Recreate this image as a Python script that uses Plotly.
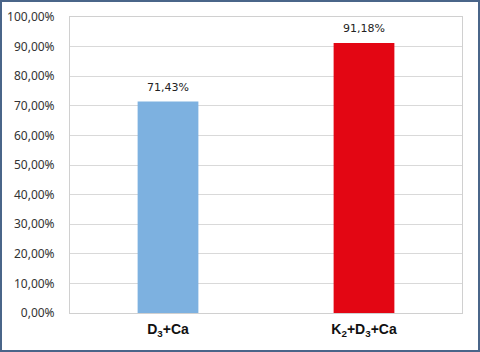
import plotly.graph_objects as go

categories = ["D<sub>3</sub>+Ca", "K<sub>2</sub>+D<sub>3</sub>+Ca"]
values = [0.7143, 0.9118]
labels = ["71,43%", "91,18%"]
colors = ["#7db1e0", "#e30613"]
tick_vals = [i / 10 for i in range(11)]

L, R, T, B = 70, 18, 17, 39
W, H = 480, 352
pw, ph = W - L - R, H - T - B

fig = go.Figure()
fig.add_trace(go.Bar(
    x=categories, y=values,
    marker=dict(color=colors, line=dict(width=0)),
    width=0.31,
))

for c, v, t in zip(categories, values, labels):
    fig.add_annotation(
        x=c, y=v, text=t, showarrow=False, yanchor="bottom", yshift=6,
        font=dict(family="DejaVu Sans", size=11, color="#222222"),
    )

fig.update_layout(
    width=W, height=H,
    margin=dict(l=L, r=R, t=T, b=B, autoexpand=False),
    paper_bgcolor="white", plot_bgcolor="white",
    separators=",.",
    showlegend=False,
    xaxis=dict(
        showline=True, linecolor="#d0d0d0", linewidth=1, mirror=True,
        tickfont=dict(family="Liberation Sans Narrow, Arial Narrow, Liberation Sans", size=14, color="#111111", weight="bold"),
        ticks="", showgrid=False, ticklabelstandoff=3, automargin=False,
    ),
    yaxis=dict(
        range=[0, 1.0], tickvals=tick_vals, tickformat=".2%",
        showgrid=True, gridcolor="#d9d9d9", gridwidth=1,
        showline=True, linecolor="#d0d0d0", linewidth=1, mirror=True,
        tickfont=dict(family="Noto Sans", size=12, color="#333333"),
        ticks="", ticklabelstandoff=12, zeroline=False, automargin=False,
    ),
)

fig.add_shape(
    type="rect", xref="paper", yref="paper",
    x0=(1 - L) / pw, x1=(W - 1 - L) / pw,
    y0=(H - B - (H - 1)) / ph, y1=(H - B - 1) / ph,
    line=dict(color="#4a6589", width=2), fillcolor="rgba(0,0,0,0)",
    layer="above",
)

fig.write_html("out.html")
